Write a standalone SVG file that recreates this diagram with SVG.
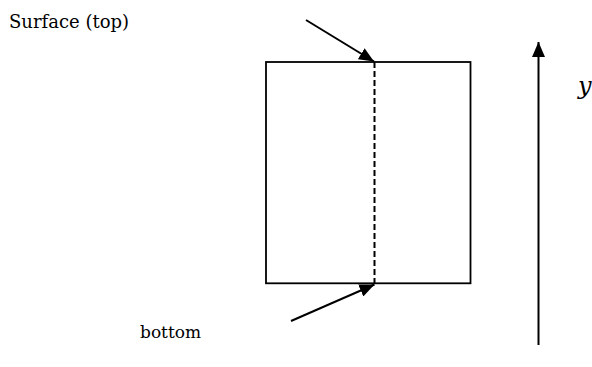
<svg xmlns="http://www.w3.org/2000/svg" width="592" height="367" viewBox="0 0 592 367">
<style>
.t{fill:#000;font-family:'DejaVu Serif',serif}
.ln{stroke:#000;stroke-width:2;fill:none}
</style>
<defs>
<marker id="ah" markerUnits="userSpaceOnUse" markerWidth="15" markerHeight="13" refX="15" refY="6.5" orient="auto" viewBox="0 0 15 13">
<path d="M0,0 L15,6.5 L0,13 z" fill="#000"/>
</marker>
</defs>
<rect width="592" height="367" fill="#fff"/>
<g id="block">
<rect x="266" y="62" width="204.5" height="221.3" fill="none" stroke="#000" stroke-width="1.8"/>
<line x1="374.5" y1="62" x2="374.5" y2="283.3" stroke="#000" stroke-width="2" stroke-dasharray="6 3"/>
</g>
<g id="connectors">
<line class="ln" x1="306" y1="20" x2="374" y2="61.5" marker-end="url(#ah)"/>
<line class="ln" x1="291" y1="321" x2="374.5" y2="284.5" marker-end="url(#ah)"/>
<line class="ln" x1="538.5" y1="345" x2="538.5" y2="42" marker-end="url(#ah)"/>
</g>
<g id="label-surface"><text class="t" x="9" y="28" font-size="18">Surface (top)</text></g>
<g id="label-bottom"><text class="t" x="140" y="338" font-size="17">bottom</text></g>
<g id="label-y"><text class="t" x="578" y="94" font-size="24" font-style="italic">y</text></g>
</svg>
